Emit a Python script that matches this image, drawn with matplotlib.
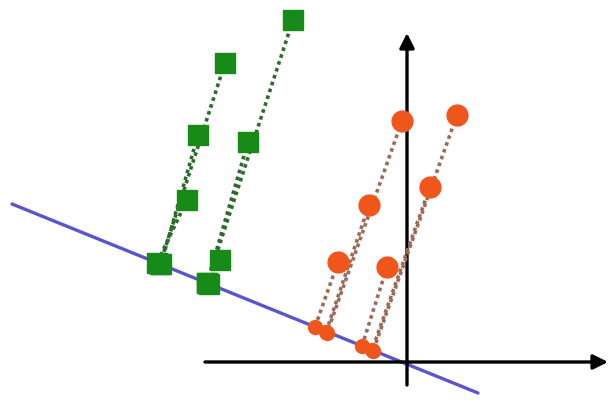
import matplotlib
matplotlib.use("Agg")
import matplotlib.pyplot as plt

# Data (origin at the crossing of the two axes)
green_x = [-114, -182, -209, -159, -220, -187]
green_y = [342, 299, 227, 220, 162, 102]
green_proj_x = [-200, -247, -246, -200, -250, -198]
green_proj_y = [79, 98, 98, 79, 99, 78]

orange_x = [-5, 50, -38, 23, -69, -20]
orange_y = [241, 247, 157, 175, 100, 95]
orange_proj_x = [-80, -34, -81, -35, -92, -45]
orange_proj_y = [29, 11, 30, 12, 35, 16]

line_x = [-395, 71]
line_y = [158, -31]

x_axis = (-202, 201)
y_axis = (-23, 329)

GREEN = "#178a17"
GREEN_DOT = "#2e6a2e"
ORANGE = "#f0561c"
ORANGE_DOT = "#9c6a58"
BLUE = "#5a55cc"

fig = plt.figure(figsize=(6.08, 4.0), dpi=100)
ax = fig.add_axes([0, 0, 1, 1])
ax.set_xlim(-407, 201)
ax.set_ylim(-38, 362)
ax.axis("off")

# coordinate axes with arrow heads
ax.annotate("", xy=(x_axis[1], 0), xytext=(x_axis[0], 0),
            arrowprops=dict(arrowstyle="-|>", color="black", lw=2.4,
                            mutation_scale=22, shrinkA=0, shrinkB=0))
ax.annotate("", xy=(0, y_axis[1]), xytext=(0, y_axis[0]),
            arrowprops=dict(arrowstyle="-|>", color="black", lw=2.4,
                            mutation_scale=22, shrinkA=0, shrinkB=0))

# projection line
ax.plot(line_x, line_y, color=BLUE, lw=2.4, solid_capstyle="round", zorder=2)

# dotted connectors from points to their projections
for x0, y0, x1, y1 in zip(green_x, green_y, green_proj_x, green_proj_y):
    ax.plot([x0, x1], [y0, y1], color=GREEN_DOT, lw=2.6,
            linestyle=(0, (1, 1)), zorder=3)
for x0, y0, x1, y1 in zip(orange_x, orange_y, orange_proj_x, orange_proj_y):
    ax.plot([x0, x1], [y0, y1], color=ORANGE_DOT, lw=2.6,
            linestyle=(0, (1, 1)), zorder=3)

# points
ax.plot(green_x, green_y, "s", color=GREEN, ms=14, zorder=4)
ax.plot(green_proj_x, green_proj_y, "s", color=GREEN, ms=14, zorder=4)
ax.plot(orange_x, orange_y, "o", color=ORANGE, ms=15, zorder=4)
ax.plot(orange_proj_x, orange_proj_y, "o", color=ORANGE, ms=10, zorder=4)

fig.savefig("out.png", dpi=100)
